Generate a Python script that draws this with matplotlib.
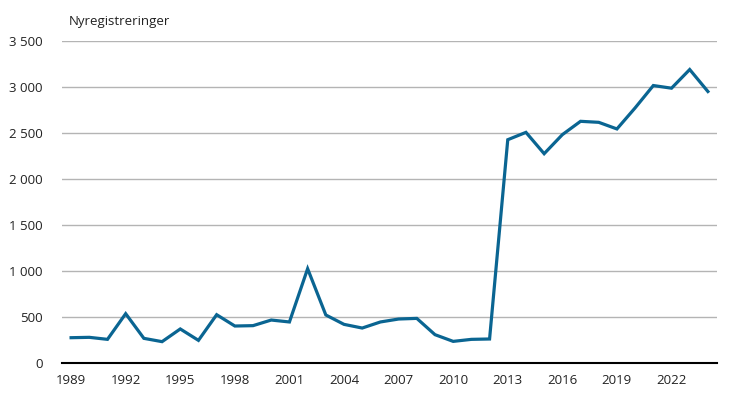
import matplotlib
matplotlib.use("Agg")
import matplotlib.pyplot as plt

# Nyregistreringer per år
years = list(range(1989, 2025))
values = [275, 279, 257, 536, 268, 232, 370, 246, 525, 402, 406, 467, 446,
          1025, 522, 420, 380, 446, 478, 485, 308, 235, 257, 261,
          2427, 2507, 2275, 2482, 2627, 2616, 2544, 2773, 3016, 2987, 3190, 2951]
yticks = [0, 500, 1000, 1500, 2000, 2500, 3000, 3500]
ytick_labels = ["0", "500", "1 000", "1 500", "2 000", "2 500", "3 000", "3 500"]
xtick_years = list(range(1989, 2025, 3))

plt.rcParams['font.family'] = ['Open Sans', 'DejaVu Sans']

fig = plt.figure(figsize=(7.36, 3.96), dpi=100)
ax = fig.add_axes([62/736, 1 - 363/396, 655/736, 322/396])

ax.plot(years, values, color='#0a6592', linewidth=2.3, solid_joinstyle='miter')

ax.set_xlim(years[0] - 0.5, years[-1] + 0.5)
ax.set_ylim(0, 3500)
ax.set_yticks(yticks)
ax.set_yticklabels(ytick_labels)
ax.set_xticks(xtick_years)
ax.set_xticklabels([str(y) for y in xtick_years])
ax.yaxis.grid(True, color='#b4b4b4', linewidth=1.0)
ax.set_axisbelow(True)

for s in ['top', 'right', 'left']:
    ax.spines[s].set_visible(False)
ax.spines['bottom'].set_color('black')
ax.spines['bottom'].set_linewidth(1.5)
ax.spines['bottom'].set_zorder(3)
ax.tick_params(axis='both', length=0, labelsize=9.5, colors='#222222')
ax.tick_params(axis='y', pad=14)
ax.tick_params(axis='x', pad=8)

fig.text(69/736, 1 - 22/396, 'Nyregistreringer', fontsize=9.5, va='center', ha='left', color='#222222')

fig.savefig('out.png', dpi=100)
